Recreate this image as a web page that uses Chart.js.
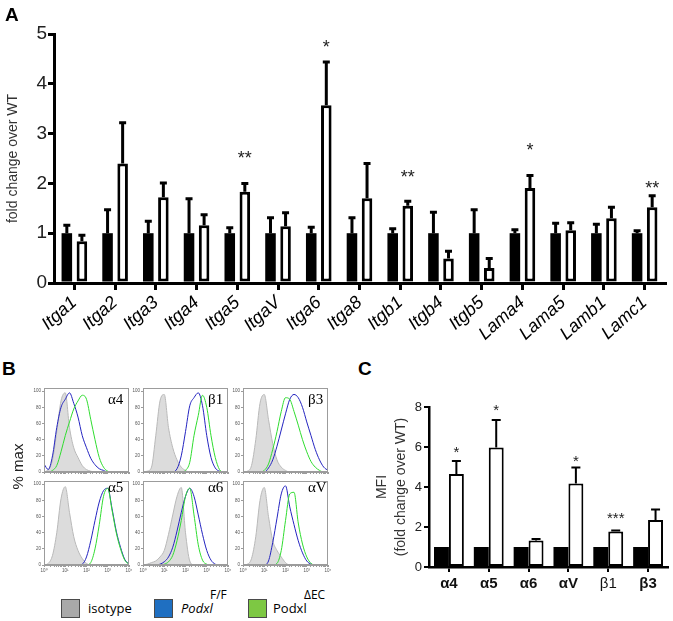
<!DOCTYPE html>
<html><head><meta charset="utf-8">
<script src="https://cdn.jsdelivr.net/npm/chart.js@4"></script>
<style>
body{margin:0;background:#fff;width:673px;height:621px;position:relative;overflow:hidden;font-family:"Liberation Sans",Arial,sans-serif;}
canvas{position:absolute;}
.t{position:absolute;white-space:nowrap;line-height:1;color:#000;}
.sq{position:absolute;width:17px;height:17px;border:1px solid #4a4a4a;}
</style></head><body>
<canvas id="cA" width="673" height="345" style="left:0;top:0"></canvas>
<canvas id="h1" width="103" height="93" style="left:30px;top:384px"></canvas>
<canvas id="h2" width="103" height="93" style="left:129px;top:384px"></canvas>
<canvas id="h3" width="103" height="93" style="left:229px;top:384px"></canvas>
<canvas id="h4" width="103" height="98" style="left:30px;top:477px"></canvas>
<canvas id="h5" width="103" height="98" style="left:129px;top:477px"></canvas>
<canvas id="h6" width="103" height="98" style="left:229px;top:477px"></canvas>
<canvas id="cC" width="323" height="215" style="left:350px;top:385px"></canvas>

<div class="t" style="left:5px;top:5px;font-size:19px;font-weight:bold;">A</div>
<div class="t" style="left:2px;top:359px;font-size:19px;font-weight:bold;">B</div>
<div class="t" style="left:358px;top:359px;font-size:19px;font-weight:bold;">C</div>
<div class="t" style="left:-6px;top:459px;font-size:15px;color:#222;transform:rotate(-90deg);transform-origin:center;width:46px;text-align:center;">% max</div>

<div class="t" style="left:108px;top:392px;font-size:15px;font-family:'Liberation Serif',serif;">α4</div>
<div class="t" style="left:208px;top:392px;font-size:15px;font-family:'Liberation Serif',serif;">β1</div>
<div class="t" style="left:308px;top:392px;font-size:15px;font-family:'Liberation Serif',serif;">β3</div>
<div class="t" style="left:108px;top:480px;font-size:15px;font-family:'Liberation Serif',serif;">α5</div>
<div class="t" style="left:208px;top:480px;font-size:15px;font-family:'Liberation Serif',serif;">α6</div>
<div class="t" style="left:308px;top:480px;font-size:15px;font-family:'Liberation Serif',serif;">αV</div>

<div class="sq" style="left:61px;top:599px;background:#a9a9a9;"></div>
<div class="t" style="left:88px;top:602px;font-size:13px;font-family:'Open Sans',sans-serif;">isotype</div>
<div class="sq" style="left:154px;top:599px;background:#1f6fc1;"></div>
<div class="t" style="left:181px;top:602px;font-size:13px;font-family:'Open Sans',sans-serif;font-style:italic;">Podxl</div>
<div class="t" style="left:210px;top:589px;font-size:12px;font-family:'Open Sans',sans-serif;">F/F</div>
<div class="sq" style="left:248px;top:599px;background:#7dc843;"></div>
<div class="t" style="left:273px;top:602px;font-size:13px;font-family:'Open Sans',sans-serif;">Podxl</div>
<div class="t" style="left:304px;top:589px;font-size:12px;font-family:'Open Sans',sans-serif;">ΔEC</div>

<script>
// ---------- Panel A data ----------
const genesA = ['Itga1','Itga2','Itga3','Itga4','Itga5','ItgaV','Itga6','Itga8','Itgb1','Itgb4','Itgb5','Lama4','Lama5','Lamb1','Lamc1'];
const wtA    = [1,1,1,1,1,1,1,1,1,1,1,1,1,1,1];
const koA    = [0.84,2.40,1.72,1.16,1.83,1.14,3.57,1.70,1.55,0.49,0.30,1.91,1.06,1.30,1.52];
const wtErrA = [0.16,0.47,0.24,0.69,0.11,0.31,0.12,0.31,0.09,0.42,0.47,0.07,0.20,0.18,0.05];
const koErrA = [0.12,0.82,0.29,0.21,0.17,0.27,0.87,0.70,0.09,0.15,0.19,0.25,0.15,0.22,0.23];
const sigA      = ['','','','','**','','*','','**','','','*','','','**'];
const sigLevelA = [0,0,0,0,2.60,0,4.82,0,2.22,0,0,2.76,0,0,2.00];

// ---------- Panel C data ----------
const intC      = ['α4','α5','α6','αV','β1','β3'];
const wtC       = [1,1,1,1,1,1];
const koC       = [4.65,5.97,1.33,4.18,1.77,2.35];
const wtErrC    = [0,0,0,0,0,0];
const koErrC    = [0.65,1.38,0.07,0.79,0.06,0.53];
const sigC      = ['*','*','','*','***',''];
const sigLevelC = [5.95,8.05,0,5.50,2.65,0];

// ---------- Panel B data (x in decades of fluorescence, y = % max) ----------
const xDec = [0,0.2,0.4,0.6,0.8,1.0,1.2,1.4,1.6,1.8,2.0,2.2,2.4,2.6,2.8,3.0,3.2,3.4,3.6,3.8,4.0];
const yTicksB = [0,20,40,60,80,100];
const xTickLabelsB = ['10⁰','10¹','10²','10³','10⁴'];

const isoA4   = [0,3,15,50,88,98,55,30,18,8,3,1,0,0,0,0,0,0,0,0,0];
const ffA4    = [10,3,20,55,80,90,98,85,68,45,30,17,9,4,2,0,0,0,0,0,0];
const ecA4    = [0,0,2,8,25,45,62,78,88,95,90,65,40,18,6,1,0,0,0,0,0];

const isoB1   = [0,1,6,45,88,96,55,30,15,6,2,0,0,0,0,0,0,0,0,0,0];
const ffB1    = [0,0,0,0,0,0,0,0,4,20,50,82,92,98,82,45,18,5,1,0,0];
const ecB1    = [0,0,0,0,0,0,0,0,0,0,2,12,45,70,95,80,45,18,3,0,0];

const isoB3   = [0,1,8,40,85,96,65,35,15,6,2,0,0,0,0,0,0,0,0,0,0];
const ffB3    = [0,0,0,0,0,0,5,15,32,52,72,90,96,92,80,62,45,28,15,6,2];
const ecB3    = [0,0,0,0,0,2,10,28,50,75,92,90,75,58,40,25,13,6,2,0,0];

const isoA5   = [0,2,12,40,82,97,65,35,18,8,2,0,0,0,0,0,0,0,0,0,0];
const ffA5    = [0,0,0,0,0,0,0,0,0,1,10,30,55,78,92,95,70,42,22,7,1];
const ecA5    = [0,0,0,0,0,0,0,0,0,0,0,3,20,50,85,95,68,40,20,6,1];

const isoA6   = [0,1,3,5,10,18,38,62,85,96,40,5,0,0,0,0,0,0,0,0,0];
const ffA6    = [0,0,0,0,1,4,10,22,42,65,85,95,85,62,38,18,6,1,0,0,0];
const ecA6    = [0,0,0,0,0,1,4,12,30,55,85,95,62,25,6,1,0,0,0,0,0];

const isoAV   = [0,1,8,35,80,96,60,30,18,10,3,0,0,0,0,0,0,0,0,0,0];
const ffAV    = [0,0,0,0,0,0,5,28,58,88,98,72,50,30,15,5,1,0,0,0,0];
const ecAV    = [0,0,0,0,0,0,0,0,2,18,55,88,90,52,26,10,2,0,0,0,0];

// ---------- plugins ----------
const errPlugin = {
  id:'errbars',
  afterDatasetsDraw(chart, args, opts){
    if(!opts.sets) return;
    const ctx = chart.ctx, y = chart.scales.y;
    opts.sets.forEach(s=>{
      const meta = chart.getDatasetMeta(s.ds);
      const vals = chart.data.datasets[s.ds].data;
      meta.data.forEach((bar,i)=>{
        const e = s.err[i]; if(!e) return;
        const top = y.getPixelForValue(vals[i]+e);
        ctx.save(); ctx.strokeStyle='#000'; ctx.lineWidth=opts.lineWidth;
        ctx.beginPath(); ctx.moveTo(bar.x, bar.y); ctx.lineTo(bar.x, top);
        ctx.moveTo(bar.x-opts.cap/2, top); ctx.lineTo(bar.x+opts.cap/2, top);
        ctx.stroke(); ctx.restore();
      });
    });
  }
};
const sigPlugin = {
  id:'sig',
  afterDatasetsDraw(chart, args, opts){
    if(!opts.labels) return;
    const ctx = chart.ctx, y = chart.scales.y, meta = chart.getDatasetMeta(opts.ds);
    ctx.save(); ctx.fillStyle='#222'; ctx.font = opts.size+'px "Liberation Sans", Arial, sans-serif';
    ctx.textAlign='center'; ctx.textBaseline='alphabetic';
    opts.labels.forEach((t,i)=>{
      if(!t) return;
      ctx.fillText(t, meta.data[i].x, y.getPixelForValue(opts.levels[i]) + 0.57*opts.size);
    });
    ctx.restore();
  }
};
const framePlugin = {
  id:'frame',
  afterDraw(chart, args, opts){
    if(!opts.color) return;
    const a = chart.chartArea, ctx = chart.ctx;
    ctx.save(); ctx.strokeStyle=opts.color; ctx.lineWidth=1;
    ctx.strokeRect(Math.round(a.left)+0.5, Math.round(a.top)+0.5, Math.round(a.right-a.left)-1, Math.round(a.bottom-a.top)-1);
    ctx.restore();
  }
};
Chart.register(errPlugin, sigPlugin, framePlugin);
Chart.defaults.font.family = '"Liberation Sans", Arial, sans-serif';

// ---------- Panel A ----------
new Chart(document.getElementById('cA'), {
  type:'bar',
  data:{labels:genesA, datasets:[
    {data:wtA, backgroundColor:'#000', borderColor:'#000', borderWidth:0},
    {data:koA, backgroundColor:'#fff', borderColor:'#000', borderWidth:3, borderSkipped:false}
  ]},
  options:{
    responsive:false, animation:false, events:[],
    layout:{padding:{top:34,right:8,left:0,bottom:0}},
    datasets:{bar:{categoryPercentage:0.74, barPercentage:0.7}},
    plugins:{legend:{display:false}, tooltip:{enabled:false},
      errbars:{lineWidth:3, cap:7, sets:[{ds:0, err:wtErrA},{ds:1, err:koErrA}]},
      sig:{ds:1, labels:sigA, levels:sigLevelA, size:18}},
    scales:{
      x:{offset:true, border:{color:'#000', width:3},
         grid:{offset:false, drawOnChartArea:false, drawTicks:true, tickLength:7, lineWidth:3, color:'#000'},
         ticks:{minRotation:42, maxRotation:42, autoSkip:false, padding:2, color:'#000', font:{size:18, style:'italic'}},
         afterFit:s=>{s.height=62; s.paddingLeft=0; s.paddingRight=0;}},
      y:{min:0, max:5, border:{color:'#000', width:3},
         grid:{drawOnChartArea:false, drawTicks:true, tickLength:6, lineWidth:3, color:'#000'},
         ticks:{stepSize:1, padding:1, color:'#222', font:{size:19}},
         title:{display:true, text:'fold change over WT', color:'#333', font:{size:14}, padding:{top:5,bottom:0}},
         afterFit:s=>{s.width=54;}}
    }
  }
});

// ---------- Panel B ----------
function hist(id, isBottom, iso, ff, ec){
  const pts = arr => xDec.map((d,i)=>({x:Math.pow(10,d), y:arr[i]}));
  const line = {pointRadius:0, borderWidth:1, fill:false, cubicInterpolationMode:'monotone'};
  new Chart(document.getElementById(id), {
    type:'line',
    data:{datasets:[
      Object.assign({data:pts(ec), borderColor:'#2fdc2f', order:1}, line),
      Object.assign({data:pts(ff), borderColor:'#2424c0', order:2}, line),
      {data:pts(iso), borderColor:'#b9b9b9', backgroundColor:'#dcdcdc', borderWidth:1, pointRadius:0, fill:'origin', cubicInterpolationMode:'monotone', order:3}
    ]},
    options:{
      responsive:false, animation:false, events:[],
      layout:{padding:{top:4,right:4,left:0,bottom:0}},
      plugins:{legend:{display:false}, tooltip:{enabled:false}, frame:{color:'#9c9c9c'}},
      scales:{
        x:{type:'logarithmic', min:1, max:10000, border:{color:'#9c9c9c', width:1},
           grid:{drawOnChartArea:false, drawTicks:true, tickLength:2, color:'#9c9c9c'},
           ticks:{autoSkip:false, maxRotation:0, minRotation:0, padding:1, color:'#555', font:{size:4.5},
             callback:(v)=>{const e=Math.log10(v); return (isBottom && Math.abs(e-Math.round(e))<1e-9) ? xTickLabelsB[Math.round(e)] : '';}},
           afterFit:s=>{s.height=isBottom?10:5; s.paddingLeft=0; s.paddingRight=0;}},
        y:{min:0, max:104, border:{color:'#9c9c9c', width:1},
           grid:{drawOnChartArea:false, drawTicks:true, tickLength:2, color:'#9c9c9c'},
           afterBuildTicks:s=>{s.ticks=yTicksB.map(v=>({value:v}));},
           ticks:{padding:1, color:'#555', font:{size:4.5}},
           afterFit:s=>{s.width=14; s.paddingTop=0; s.paddingBottom=0;}}
      }
    }
  });
}
hist('h1', false, isoA4, ffA4, ecA4);
hist('h2', false, isoB1, ffB1, ecB1);
hist('h3', false, isoB3, ffB3, ecB3);
hist('h4', true, isoA5, ffA5, ecA5);
hist('h5', true, isoA6, ffA6, ecA6);
hist('h6', true, isoAV, ffAV, ecAV);

// ---------- Panel C ----------
new Chart(document.getElementById('cC'), {
  type:'bar',
  data:{labels:intC, datasets:[
    {data:wtC, backgroundColor:'#000', borderColor:'#000', borderWidth:0},
    {data:koC, backgroundColor:'#fff', borderColor:'#000', borderWidth:2, borderSkipped:false}
  ]},
  options:{
    responsive:false, animation:false, events:[],
    layout:{padding:{top:22,right:5,left:0,bottom:0}},
    datasets:{bar:{categoryPercentage:0.75, barPercentage:1.0}},
    plugins:{legend:{display:false}, tooltip:{enabled:false},
      errbars:{lineWidth:2, cap:9, sets:[{ds:0, err:wtErrC},{ds:1, err:koErrC}]},
      sig:{ds:1, labels:sigC, levels:sigLevelC, size:15}},
    scales:{
      x:{offset:true, border:{color:'#000', width:2.5},
         grid:{offset:false, drawOnChartArea:false, drawTicks:true, tickLength:5, lineWidth:2, color:'#000'},
         ticks:{autoSkip:false, maxRotation:0, padding:3, color:'#111',
           font:(c)=>({size:15, weight: c.index===4 ? 'normal' : 'bold'})},
         afterFit:s=>{s.height=33; s.paddingLeft=0; s.paddingRight=0;}},
      y:{min:0, max:8, border:{color:'#000', width:2.5},
         grid:{drawOnChartArea:false, drawTicks:true, tickLength:5, lineWidth:2, color:'#000'},
         ticks:{stepSize:2, padding:2, color:'#222', font:{size:13}},
         title:{display:true, text:['MFI','(fold change over WT)'], color:'#333', font:{size:14, lineHeight:1.4}, padding:{top:22,bottom:0}},
         afterFit:s=>{s.width=79;}}
    }
  }
});
</script>
</body></html>
